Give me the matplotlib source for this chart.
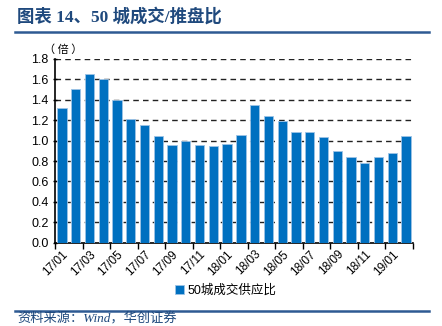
import numpy as np
import matplotlib.pyplot as plt
from matplotlib.lines import Line2D

plt.rcParams['font.family'] = ['Liberation Sans', 'Noto Sans CJK SC']

# monthly ratio of transactions to new supply, 50 cities
months = ['17/01', '17/02', '17/03', '17/04', '17/05', '17/06', '17/07', '17/08',
          '17/09', '17/10', '17/11', '17/12', '18/01', '18/02', '18/03', '18/04',
          '18/05', '18/06', '18/07', '18/08', '18/09', '18/10', '18/11', '18/12',
          '19/01', '19/02']
ratio = [1.32, 1.51, 1.65, 1.60, 1.40, 1.21, 1.15, 1.05, 0.96, 1.00, 0.96, 0.95,
         0.97, 1.06, 1.35, 1.24, 1.19, 1.08, 1.08, 1.04, 0.90, 0.84, 0.78, 0.84,
         0.88, 1.05]
yticks = [0.0, 0.2, 0.4, 0.6, 0.8, 1.0, 1.2, 1.4, 1.6, 1.8]

title_blue = '#1F497D'
bar_blue = '#0070C0'

fig = plt.figure(figsize=(4.42, 3.26), dpi=100)

# header and footer
fig.text(17 / 442, 1 - 17 / 326, '图表 14、50 城成交/推盘比', color=title_blue,
         fontsize=12.5, fontweight='bold', va='center', ha='left',
         family=['Liberation Serif', 'Noto Sans CJK SC'])
for yy in (32, 311):
    fig.add_artist(Line2D([15 / 442, 429 / 442], [1 - yy / 326] * 2,
                          color='#2E5A93', lw=1.8, transform=fig.transFigure))
fig.text(17 / 442, 1 - 319 / 326, '资料来源：Wind，华创证券', color=title_blue,
         fontsize=9.5, style='italic', va='center', ha='left',
         family=['Liberation Serif', 'Noto Sans CJK SC'])

ax = fig.add_axes([55 / 442, 1 - 242.7 / 326, 358 / 442, 183.7 / 326])
x = np.arange(len(months))
ax.bar(x, ratio, width=0.68, color=bar_blue, edgecolor='#9DC3E6', linewidth=0.6,
       zorder=3, label='50城成交供应比')

ax.set_xlim(-0.5, len(months) - 0.5)
ax.set_ylim(0, 1.8)
ax.set_yticks(yticks)
ax.set_yticklabels([f'{v:.1f}' for v in yticks], fontsize=9)
for v in yticks[1:]:
    ax.axhline(v, color='#222222', lw=1.0, ls=(0, (4, 3)), zorder=1)

ax.set_xticks(x[::2])
ax.set_xticklabels(months[::2], rotation=45, ha='right', rotation_mode='anchor',
                   fontsize=8.5)
ax.set_xticks(np.arange(-0.5, len(months), 2), minor=True)
ax.tick_params(axis='x', which='major', length=0, pad=4)
ax.tick_params(axis='x', which='minor', length=4, width=1, direction='out')
ax.tick_params(axis='y', length=3, width=1, direction='inout', pad=3)

for s in ('top', 'right'):
    ax.spines[s].set_visible(False)
for s in ('left', 'bottom'):
    ax.spines[s].set_linewidth(1.2)

fig.text(44 / 442, 1 - 50 / 326, '（ 倍 ）', fontsize=8, va='center', ha='left',
         family=['Noto Sans CJK SC'])

ax.legend(loc='center', bbox_to_anchor=(226 / 442, 1 - 291 / 326),
          bbox_transform=fig.transFigure, frameon=False, fontsize=9,
          handlelength=0.7, handleheight=0.7, handletextpad=0.3)

fig.savefig('out.png', dpi=100)
